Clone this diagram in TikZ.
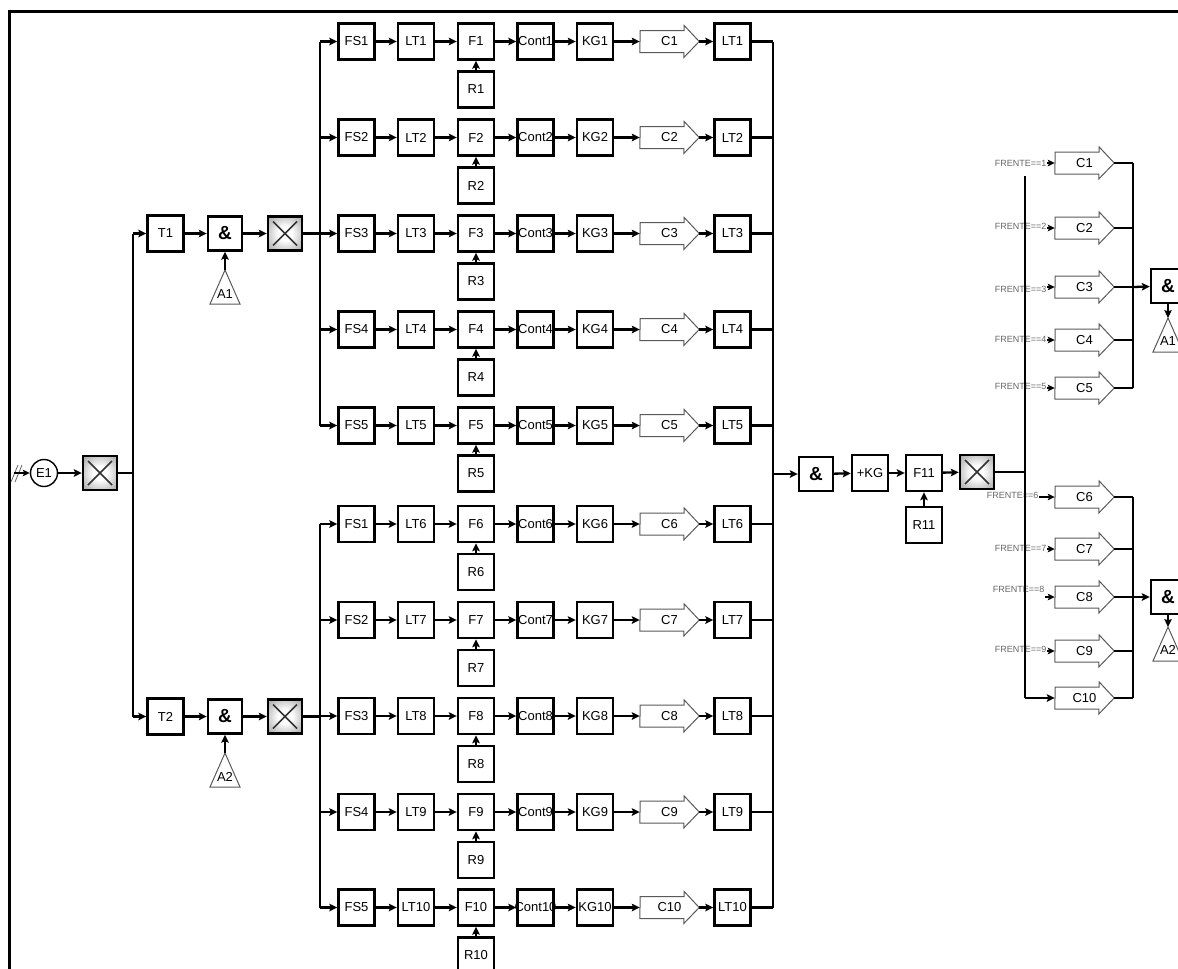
\documentclass[tikz,border=0pt]{standalone}
\usepackage{fontspec}
\setmainfont{Liberation Sans}
\usetikzlibrary{arrows.meta}
\newcommand\ctr[1]{\makebox[0pt]{#1}}
% outline of a C arrow round its (invisible) node
\newcommand\coutline[1]{\draw[cedge] (#1.west) ++(0,11) -- ++(44,0) -- ++(0,5) -- (#1.east) -- ++(-15,-16) -- ++(0,5) -- ++(-44,0) -- cycle;}
\pgfdeclareradialshading{xshade}{\pgfpoint{0bp}{0bp}}{color(0bp)=(white); color(10bp)=(white); color(35bp)=(black!35); color(50bp)=(black!60)}
\tikzset{
  blk/.style={draw, line width=2.4, minimum width=36, minimum height=36, inner sep=0, font=\fontsize{13}{13}\selectfont},
  andblk/.style={blk, minimum width=34, minimum height=34, font=\fontsize{19}{19}\selectfont\bfseries},
  xblk/.style={draw, line width=2.4, minimum width=34, minimum height=34, inner sep=0, shading=xshade,
    path picture={\draw[line width=1.6, black!80]
      ([shift={(5,5)}]path picture bounding box.north west) -- ([shift={(-5,-5)}]path picture bounding box.south east)
      ([shift={(-5,5)}]path picture bounding box.north east) -- ([shift={(5,-5)}]path picture bounding box.south west);}},
  carrow/.style={minimum width=59, minimum height=32, inner sep=0, font=\fontsize{13}{13}\selectfont},
  cedge/.style={draw=black!65, line width=1},
  tri/.style={draw=black!65, line width=1},
  con/.style={line width=2.3, -{Stealth[length=8pt,width=7.5pt,inset=1.5pt]}},
  fcon/.style={line width=1.8, -{Stealth[length=7pt,width=6.5pt,inset=1.5pt]}},
  bus/.style={line width=2.8},
  flbl/.style={inner sep=0.5, text=black!60, font=\fontsize{9}{9}\selectfont},
  tlbl/.style={inner sep=0, font=\fontsize{13}{13}\selectfont},
}
\begin{document}
\begin{tikzpicture}[x=1pt, y=-1pt]
  \useasboundingbox (0,0) rectangle (1178,969);
  % frame
  \draw[line width=3] (9,969) -- (9,11) -- (1178,11);

  % input side
  \coordinate (e1in) at (14,473);
  \node[draw, circle, line width=1.4, minimum size=27, inner sep=0, font=\fontsize{13}{13}\selectfont] (e1) at (44,473) {E1};
  \draw[black!60, line width=0.8] (11,482) -- (18,465) (15,482) -- (22,465);
  \draw[fcon] (e1in) -- (e1);
  \node[xblk] (x0) at (100,473) {};
  \draw[con] (e1) -- (x0);
  \coordinate (mbus) at (133,0);
  \coordinate (lbus) at (320,0);
  \coordinate (rbus) at (773,0);

  \node[blk] (t1) at (165.5,233.5) {T1};
  \node[andblk] (and1) at (225,233.5) {\&};
  \node[xblk] (x1) at (285,233.5) {};
  \coordinate (a1top) at (225,270);
  \draw[tri] (a1top) -- (210,304) -- (240,304) -- cycle;
  \node[tlbl] (a1) at (225,294) {A1};

  \node[blk] (t2) at (165.5,716.5) {T2};
  \node[andblk] (and2) at (225,716.5) {\&};
  \node[xblk] (x2) at (285,716.5) {};
  \coordinate (a2top) at (225,753);
  \draw[tri] (a2top) -- (210,787) -- (240,787) -- cycle;
  \node[tlbl] (a2) at (225,777) {A2};

  \draw[bus] (x0) -- (x0.east -| mbus);
  \draw[bus] (t1.west -| mbus) -- (t2.west -| mbus);
  \foreach \t/\a/\x/\p in {t1/and1/x1/a1top, t2/and2/x2/a2top} {
    \draw[con] (\t.west -| mbus) -- (\t);
    \draw[con] (\t) -- (\a);
    \draw[con] (\a) -- (\x);
    \draw[con] (\p) -- (\a);
    \draw[bus] (\x) -- (\x.east -| lbus);
  }

  % ten chains
  \foreach \i/\y/\s in {1/41.5/1,2/137.5/2,3/233.5/3,4/329.5/4,5/425.5/5,6/524/1,7/620/2,8/716/3,9/812/4,10/907.5/5} {
    \node[blk] (fs\i) at (356.5,\y) {FS\s};
    \node[blk] (lt\i) at (416,\y) {\ctr{LT\i}};
    \node[blk] (f\i) at (476,\y) {\ctr{F\i}};
    \node[blk] (r\i) at (476,{\y+48}) {\ctr{R\i}};
    \node[blk] (ct\i) at (535.5,\y) {\ctr{Cont\i}};
    \node[blk] (kg\i) at (595,\y) {\ctr{KG\i}};
    \node[carrow] (c\i) at (669.5,\y) {\raisebox{-3pt}{C\i}};
    \coutline{c\i}
    \node[blk] (lo\i) at (732.5,\y) {\ctr{LT\i}};
    \draw[con] (fs\i.west -| lbus) -- (fs\i);
    \draw[con] (fs\i) -- (lt\i);
    \draw[con] (lt\i) -- (f\i);
    \draw[con] (r\i) -- (f\i);
    \draw[con] (f\i) -- (ct\i);
    \draw[con] (ct\i) -- (kg\i);
    \draw[con] (kg\i) -- (c\i);
    \draw[con] (c\i) -- (lo\i);
    \draw[bus] (lo\i) -- (lo\i.east -| rbus);
  }
  \draw[bus] (fs1.west -| lbus) -- (fs5.west -| lbus);
  \draw[bus] (fs6.west -| lbus) -- (fs10.west -| lbus);
  \draw[bus] (lo1.east -| rbus) -- (lo10.east -| rbus);

  % merge
  \node[andblk] (and0) at (816,474) {\&};
  \node[blk] (pkg) at (870,473) {+KG};
  \node[blk] (f11) at (924,473) {F11};
  \node[blk] (r11) at (924,525) {R11};
  \node[xblk] (x3) at (977,472) {};
  \draw[con] (and0.west -| rbus) -- (and0);
  \draw[con] (and0) -- (pkg);
  \draw[con] (pkg) -- (f11);
  \draw[con] (r11) -- (f11);
  \draw[con] (f11) -- (x3);

  % outputs
  \coordinate (fbus) at (1025,0);
  \coordinate (ftop) at (1025,176);
  \coordinate (cbus) at (1133,0);
  \foreach \i/\y in {1/163,2/228,3/287,4/340,5/388,6/497,7/549,8/597,9/651,10/698} {
    \node[carrow] (cr\i) at (1084.5,\y) {\raisebox{-3pt}{C\i}};
    \coutline{cr\i}
    \draw[bus] (cr\i) -- (cr\i.east -| cbus);
  }
  \foreach \i/\ty/\tx in {1/163/1047,2/226/1047,3/289/1047,4/339/1047,5/386/1047,6/495/1039,7/548/1047,8/589/1045,9/649/1047} {
    \node[flbl, anchor=east] (fl\i) at (\tx,\ty) {FRENTE==\i};
    \draw[fcon] (fl\i.east |- cr\i.west) -- (cr\i.west);
  }
  \draw[bus] (x3) -- (x3.east -| fbus);
  \draw[bus] (ftop) -- (ftop |- cr10.west);
  \draw[con] (ftop |- cr10.west) -- (cr10);
  \draw[bus] (cr1.east -| cbus) -- (cr5.east -| cbus);
  \draw[bus] (cr6.east -| cbus) -- (cr10.east -| cbus);

  \node[andblk] (and3) at (1168,286) {\&};
  \node[andblk] (and4) at (1168,597) {\&};
  \coordinate (a3top) at (1168,318);
  \coordinate (a4top) at (1168,627);
  \draw[tri] (a3top) -- (1153,352) -- (1183,352) -- cycle;
  \draw[tri] (a4top) -- (1153,661) -- (1183,661) -- cycle;
  \node[tlbl] (a3) at (1168,341) {A1};
  \node[tlbl] (a4) at (1168,650) {A2};
  \draw[con] (cr3.east -| cbus) -- (and3);
  \draw[con] (cr8.east -| cbus) -- (and4);
  \draw[con] (and3) -- (a3top);
  \draw[con] (and4) -- (a4top);
\end{tikzpicture}
\end{document}
